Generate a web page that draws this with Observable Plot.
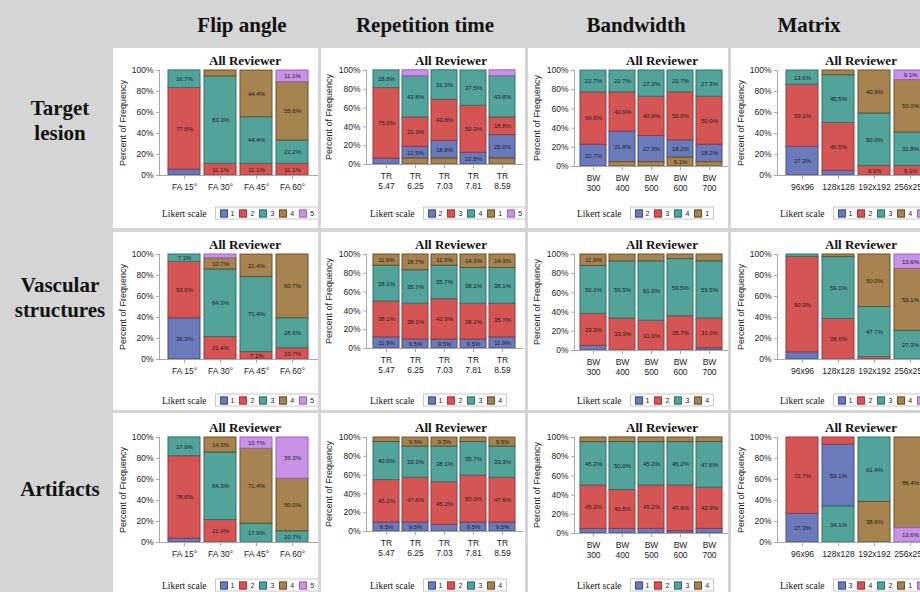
<!DOCTYPE html>
<html><head><meta charset="utf-8">
<script src="https://cdn.jsdelivr.net/npm/d3@7"></script>
<script src="https://cdn.jsdelivr.net/npm/@observablehq/plot@0.6"></script>
<style>
body{margin:0;}
#root{position:relative;width:920px;height:592px;overflow:hidden;background:#d5d5d5;font-family:"Liberation Sans",Arial,sans-serif;}
.hdr{position:absolute;font-family:"Liberation Serif","Times New Roman",serif;font-weight:bold;font-size:21px;color:#111;transform:translate(-50%,-50%);white-space:nowrap;}
.rowlab{position:absolute;font-family:"Liberation Serif","Times New Roman",serif;font-weight:bold;font-size:21px;color:#111;transform:translate(-50%,-50%);text-align:center;line-height:25px;white-space:nowrap;}
.panel{position:absolute;background:#fff;overflow:hidden;}
.panel svg{position:absolute;left:0;}
.ptitle{position:absolute;font-family:"Liberation Serif","Times New Roman",serif;font-weight:bold;font-size:13px;color:#111;transform:translate(-50%,-50%);white-space:nowrap;}
.ylab{position:absolute;font-size:9px;color:#222;transform:translate(-50%,-50%) rotate(-90deg);white-space:nowrap;}
.legend{position:absolute;display:flex;align-items:center;transform:translateY(-50%);white-space:nowrap;}
.legend .lt{font-family:"Liberation Serif","Times New Roman",serif;font-size:9.5px;color:#111;margin-right:8px;}
.legend .box{display:flex;align-items:center;border:1px solid #c8c8c8;padding:1px 3px 1px 4px;height:9px;}
.legend .sw{width:6px;height:6px;border:1px solid;margin-right:3px;}
.legend .lb{font-size:7px;color:#222;margin-right:5px;}
.legend .lb:last-child{margin-right:1px;}
</style>
</head><body><div id="root"></div>
<script>
// ---------- data ----------
const columnHeaders = ["Flip angle", "Repetition time", "Bandwidth", "Matrix"];
const rowHeaders = [["Target", "lesion"], ["Vascular", "structures"], ["Artifacts"]];
const panelTitle = "All Reviewer";
const yAxisTitle = "Percent of Frequency";
const legendTitle = "Likert scale";
const yTickValues = [0, 20, 40, 60, 80, 100];

const faCategories = ["FA 15°", "FA 30°", "FA 45°", "FA 60°"];
const trCategories = ["TR 5.47", "TR 6.25", "TR 7.03", "TR 7.81", "TR 8.59"];
const bwCategories = ["BW 300", "BW 400", "BW 500", "BW 600", "BW 700"];
const matrixCategories = ["96x96", "128x128", "192x192", "256x256"];

// legend order (colour order) and stacking order (bottom to top)
const keys12345 = ["1", "2", "3", "4", "5"];
const keys1234 = ["1", "2", "3", "4"];
const keys23415 = ["2", "3", "4", "1", "5"];
const keys2341 = ["2", "3", "4", "1"];
const keys34215 = ["3", "4", "2", "1", "5"];
const stack12345 = ["1", "2", "3", "4", "5"];
const stack51234 = ["5", "1", "2", "3", "4"];

// values: one row per legend key, one column per category
const targetFA = [
  [5.6, 0, 0, 0],
  [77.8, 11.1, 11.1, 11.1],
  [16.7, 83.3, 44.4, 22.2],
  [0, 5.6, 44.4, 55.6],
  [0, 0, 0, 11.1]
];
const targetTR = [
  [6.3, 12.5, 18.8, 12.5, 25.0],
  [75.0, 31.3, 43.8, 50.0, 18.8],
  [18.8, 43.8, 31.3, 37.5, 43.8],
  [0, 6.3, 6.3, 0, 6.3],
  [0, 6.3, 0, 0, 6.3]
];
const targetBW = [
  [22.7, 31.8, 27.3, 18.2, 18.2],
  [54.5, 40.9, 40.9, 50.0, 50.0],
  [22.7, 22.7, 27.3, 22.7, 27.3],
  [0, 4.5, 4.5, 9.1, 4.5]
];
const targetMatrix = [
  [27.3, 4.5, 0, 0],
  [59.1, 45.5, 9.1, 9.1],
  [13.6, 45.5, 50.0, 31.8],
  [0, 4.5, 40.9, 50.0],
  [0, 0, 0, 9.1]
];
const vascularFA = [
  [39.3, 0, 0, 0],
  [53.6, 21.4, 7.1, 10.7],
  [7.1, 64.3, 71.4, 28.6],
  [0, 10.7, 21.4, 60.7],
  [0, 3.6, 0, 0]
];
const vascularTR = [
  [11.9, 9.5, 9.5, 9.5, 11.9],
  [38.1, 38.1, 42.9, 38.1, 35.7],
  [38.1, 35.7, 35.7, 38.1, 38.1],
  [11.9, 16.7, 11.9, 14.3, 14.3]
];
const vascularBW = [
  [4.8, 0, 0, 0, 2.4],
  [33.3, 33.3, 31.0, 35.7, 31.0],
  [50.0, 59.5, 61.9, 59.5, 59.5],
  [11.9, 7.1, 7.1, 4.8, 7.1]
];
const vascularMatrix = [
  [6.8, 0, 0, 0],
  [90.9, 38.6, 2.3, 0],
  [2.3, 59.1, 47.7, 27.3],
  [0, 2.3, 50.0, 59.1],
  [0, 0, 0, 13.6]
];
const artifactsFA = [
  [3.6, 0, 0, 0],
  [78.6, 21.4, 0, 0],
  [17.9, 64.3, 17.9, 10.7],
  [0, 14.3, 71.4, 50.0],
  [0, 0, 10.7, 39.3]
];
const artifactsTR = [
  [9.5, 9.5, 7.1, 9.5, 9.5],
  [45.2, 47.6, 45.2, 50.0, 47.6],
  [40.5, 33.3, 38.1, 35.7, 33.3],
  [4.8, 9.5, 9.5, 4.8, 9.5]
];
const artifactsBW = [
  [4.8, 4.8, 4.8, 2.4, 4.8],
  [45.2, 40.5, 45.2, 47.6, 42.9],
  [45.2, 50.0, 45.2, 45.2, 47.6],
  [4.8, 4.8, 4.8, 4.8, 4.8]
];
const artifactsMatrix = [
  [27.3, 59.1, 0, 0],
  [72.7, 6.8, 0, 0],
  [0, 34.1, 61.4, 0],
  [0, 0, 38.6, 86.4],
  [0, 0, 0, 13.6]
];

// ---------- styling / layout ----------
const FILLS = ["#6a7abb", "#d55454", "#52a39a", "#a6834f", "#c893e6"];
const STROKES = ["#3e4c8e", "#a33535", "#2b756c", "#6b4f28", "#9a5fc0"];

const COLS = [
  {x: 113, w: 205, mL: 46, mR: 1, mB: 33, cats: faCategories, pi: 0.1, po: 0.2, split: false, titleX: 132, ylabX: 10},
  {x: 321, w: 204, mL: 45, mR: 3, mB: 44, cats: trCategories, pi: 0.12, po: 0.2, split: true, titleX: 130, ylabX: 8},
  {x: 528, w: 200, mL: 46, mR: 0, mB: 42, cats: bwCategories, pi: 0.12, po: 0.2, split: true, titleX: 134, ylabX: 9},
  {x: 731, w: 205, mL: 46, mR: 1, mB: 33, cats: matrixCategories, pi: 0.1, po: 0.2, split: false, titleX: 130, ylabX: 10}
];
const ROWS = [
  {y: 48, h: 180, off: 0, legendY: 165, labelY: 121},
  {y: 232, h: 178, off: 0, legendY: 168, labelY: 298},
  {y: 413, h: 179, off: 2, legendY: 172, labelY: 489}
];
const PANELS = [
  [{keys: keys12345, stack: stack12345, values: targetFA},
   {keys: keys23415, stack: stack12345, values: targetTR},
   {keys: keys2341, stack: stack12345, values: targetBW},
   {keys: keys12345, stack: stack12345, values: targetMatrix}],
  [{keys: keys12345, stack: stack12345, values: vascularFA},
   {keys: keys1234, stack: stack12345, values: vascularTR},
   {keys: keys1234, stack: stack12345, values: vascularBW},
   {keys: keys12345, stack: stack12345, values: vascularMatrix}],
  [{keys: keys12345, stack: stack12345, values: artifactsFA},
   {keys: keys1234, stack: stack12345, values: artifactsTR},
   {keys: keys1234, stack: stack12345, values: artifactsBW},
   {keys: keys34215, stack: stack51234, values: artifactsMatrix}]
];
const headerX = [242, 425, 636, 809];

const root = document.getElementById("root");
function el(cls, text, style) {
  const d = document.createElement("div");
  d.className = cls;
  if (text != null) d.textContent = text;
  Object.assign(d.style, style || {});
  return d;
}

columnHeaders.forEach((t, i) => root.appendChild(el("hdr", t, {left: headerX[i] + "px", top: "25px"})));
rowHeaders.forEach((lines, i) => {
  const d = el("rowlab", null, {left: "60px", top: ROWS[i].labelY + "px"});
  d.innerHTML = lines.join("<br>");
  root.appendChild(d);
});

function makePanel(r, c) {
  const col = COLS[c], row = ROWS[r], spec = PANELS[r][c];
  const div = el("panel", null, {left: col.x + "px", top: row.y + "px", width: col.w + "px", height: row.h + "px"});
  const H = 160, mT = 22;
  const plotH = H - mT - col.mB;
  const minPct = 7.3 / plotH * 100;
  const data = [];
  spec.keys.forEach((k, i) => spec.values[i].forEach((v, j) => {
    if (v > 0) data.push({cat: col.cats[j], key: k, value: v, fill: FILLS[i], stroke: STROKES[i]});
  }));
  const chart = Plot.plot({
    width: col.w, height: H,
    marginLeft: col.mL, marginRight: col.mR, marginTop: mT, marginBottom: col.mB,
    style: {fontFamily: "'Liberation Sans', Arial, sans-serif", fontSize: "8.5px", color: "#222", background: "transparent", overflow: "visible"},
    x: {domain: col.cats, paddingInner: col.pi, paddingOuter: col.po, label: null},
    y: {domain: [0, 100], label: null},
    color: {type: "identity"},
    marks: [
      Plot.barY(data, Plot.stackY({x: "cat", y: "value", z: "key", order: spec.stack, fill: "fill", stroke: "stroke", strokeWidth: 1})),
      Plot.text(data, Plot.stackY({x: "cat", y: "value", z: "key", order: spec.stack,
        text: d => d.value >= minPct ? d.value.toFixed(1) + "%" : "", fontSize: 6, fill: "#1a1a1a"})),
      Plot.frame({anchor: "left", stroke: "#a8a8a8"}),
      Plot.frame({anchor: "bottom", stroke: "#a8a8a8"}),
      Plot.axisY({ticks: yTickValues, tickFormat: v => v + "%", tickSize: 3, tickPadding: 3, stroke: "#a8a8a8", label: null}),
      Plot.axisX({tickSize: 4, tickPadding: 3, tickFormat: col.split ? t => t.replace(" ", "\n") : t => t, lineHeight: 1.2, stroke: "#a8a8a8", label: null})
    ]
  });
  chart.style.top = row.off + "px";
  div.appendChild(chart);
  div.appendChild(el("ptitle", panelTitle, {left: col.titleX + "px", top: (13 + row.off) + "px"}));
  div.appendChild(el("ylab", yAxisTitle, {left: col.ylabX + "px", top: (row.off + mT + plotH / 2) + "px"}));
  const lg = el("legend", null, {left: "49px", top: row.legendY + "px"});
  lg.appendChild(el("lt", legendTitle));
  const box = el("box");
  spec.keys.forEach((k, i) => {
    box.appendChild(el("sw", null, {background: FILLS[i], borderColor: STROKES[i]}));
    box.appendChild(el("lb", k));
  });
  lg.appendChild(box);
  div.appendChild(lg);
  root.appendChild(div);
}
for (let r = 0; r < 3; r++) for (let c = 0; c < 4; c++) makePanel(r, c);
</script>
</body></html>
